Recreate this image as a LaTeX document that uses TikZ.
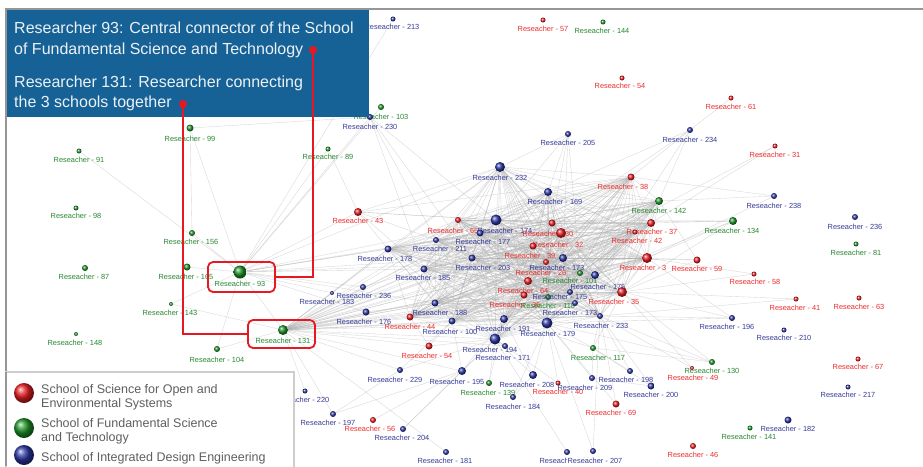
\documentclass[tikz,border=0pt]{standalone}
\usepackage{fontspec}
\setmainfont{Liberation Sans}
\usetikzlibrary{backgrounds}
\definecolor{boxblue}{RGB}{22,98,150}
\definecolor{boxtext}{RGB}{236,241,246}
\definecolor{sr}{RGB}{235,30,35}
\definecolor{sg}{RGB}{30,150,40}
\definecolor{sb}{RGB}{45,55,165}
\definecolor{tr}{RGB}{235,45,45}
\definecolor{tg}{RGB}{40,135,50}
\definecolor{tb}{RGB}{55,60,150}
\definecolor{edgec}{RGB}{175,175,175}
\definecolor{markc}{RGB}{230,25,35}
\definecolor{framec}{RGB}{150,150,150}
\definecolor{legline}{RGB}{205,205,205}
\definecolor{legtext}{RGB}{95,95,95}
\begin{document}
\begin{tikzpicture}[x=1pt,y=-1pt,
  edge/.style={draw=edgec, line width=0.35pt, opacity=0.5},
  sph/.style={circle, inner sep=0pt, shading=ball},
  lab/.style={font=\fontsize{7.4}{8}\selectfont, inner sep=0pt},
  boxtxt/.style={font=\fontsize{16}{19}\selectfont, text=boxtext, inner sep=0pt, anchor=base west},
  legtxt/.style={font=\fontsize{12.5}{14}\selectfont, text=legtext, inner sep=0pt, anchor=base west},
  mk/.style={draw=markc, line width=2.2pt},
  mkdot/.style={circle, fill=markc, inner sep=0pt, minimum size=8pt},
  hibox/.style={draw=markc, line width=1.8pt, rounded corners=5pt, inner sep=0pt}]
\useasboundingbox (0,0) rectangle (923,466);
% nodes
\foreach \id/\num/\x/\y/\c/\r/\lx/\ly in {
213/213/393/19/b/2.5/392/27, 57/57/543/20/r/2.5/543/29, 144/144/603/22/g/2.5/602/31,
54/54/622/78/r/2.5/620/86, 61/61/731/98/r/2.5/731/107, 234/234/690/130/b/3/690/140,
31/31/775/146/r/2.5/775/155, 103/103/381/107/g/3/381/117, 230/230/370/117/b/3/370/127,
89/89/328/149/g/2.5/328/157, 205/205/568/134/b/3/568/143, 99/99/190/128/g/3.5/190/139,
91/91/79/151/g/2.5/79/160, 98/98/76/208/g/2.5/76/216, 156/156/192/233/g/3/191/242,
87/87/85/268/g/3/84/277, 165/165/187/267/g/3.5/186/277, 93/93/240/272/g/6.5/240/284,
143/143/171/304/g/2/170/313, 148/148/76/334/g/2/75/343, 104/104/217/349/g/3/217/360,
131/131/283/330/g/5/283/341, 43/43/358/212/r/4/358/221, 178/178/388/249/b/3.5/385/259,
211/211/436/240/b/3/440/249, 185/185/424/269/b/3.5/423/278, 236a/236/363/287/b/3/364/296,
183/183/332/293/b/2/327/302, 176/176/366/312/b/3.5/364/322, 44/44/410/317/r/3.5/410/327,
188/188/435/303/b/3.5/440/313, 100/100/452/321/b/3.5/450/332, 191/191/504/319/b/4/503/329,
179/179/547/323/b/5.5/548/334, 194/194/495/339/b/5.5/490/350, 171/171/505/346/b/3/503/358,
54b/54/429/346/r/3.5/427/356, 229/229/400/370/b/3/395/380, 195/195/462/371/b/4/457/382,
139/139/489/383/g/3/488/393, 184/184/513/397/b/3/513/407, 208/208/533/375/b/4/527/385,
40/40/558/383/r/2.5/558/392, 209/209/592/378/b/3/585/388, 220/220/305/391/b/2.5/302/400,
197/197/333/414/b/3/328/423, 56/56/373/420/r/3/370/429, 204/204/403/429/b/3/402/438,
181/181/446/452/b/3/445/461, 206/206/567/452/b/3/567/461,
196/196/732/318/b/3/727/327, 210/210/784/330/b/2.5/784/338, 67/67/858/359/r/2.5/858/367,
130/130/712/362/g/3/712/371, 49/49/692/368/r/2/693/378, 198/198/630/371/b/3/626/380,
200/200/651/386/b/3.5/651/395, 69/69/616/404/r/3.5/611/413, 217/217/848/387/b/2.5/848/395,
182/182/788/420/b/3.5/788/429, 141/141/750/428/g/2.5/749/437, 46/46/693/446/r/3/693/455,
233/233/600/316/b/3/601/326, 117/117/593/348/g/3/598/358, 238/238/774/196/b/3/774/206,
236b/236/855/217/b/3/855/227, 81/81/856/244/g/2.5/856/253, 134/134/733/221/g/4/732/231,
142/142/659/201/g/4/659/211, 38/38/631/177/r/3.5/623/187, 37/37/651/223/r/4/652/232,
42/42/635/232/r/2.5/637/241, 3/3/647/258/r/5/643/268, 59/59/697/260/r/3.5/697/269,
58/58/754/274/r/2.5/755/282, 41/41/796/299/r/2.5/795/308, 63/63/859/298/r/2.5/859/307,
35/35/622/292/r/5/614/302, 232/232/500/167/b/5/500/178, 169/169/548/192/b/4/555/202,
174/174/496/220/b/5.5/505/231, 65/65/458/220/r/3/453/231, 177/177/480/233/b/3.5/483/242,
30/30/552/223/r/3.5/548/234, 32/32/561/233/r/5/558/245, 39/39/533/246/r/3.5/530/256,
203/203/472/258/b/3.5/483/268, 26/26/546/262/r/3/541/273, 173a/173/563/258/b/4/557/268,
101/101/580/273/g/3/570/281, 175a/175/595/275/b/4/598/287, 64/64/528/281/r/4/523/291,
36/36/524/295/r/3.5/515/305, 118/118/548/297/g/3/548/306, 175b/175/570/292/b/3/560/297,
173b/173/575/303/b/3/570/313} {
  \node[lab, text=t\c] (l\id) at (\lx,\ly) {Reseacher - \num};
  \node[sph, ball color=s\c, minimum size=2*\r] (n\id) at (\x,\y) {};
}
\node[lab, text=tb, fill=white, inner sep=0.5pt] (l207) at (595,461) {Reseacher - 207};
\node[sph, ball color=sb, minimum size=6pt] (n207) at (593,451) {};
% edges
\begin{scope}[on background layer]
\fill[white] (0,0) rectangle (923,466);
\foreach \a [count=\i] in {232,169,174,65,177,211,30,32,39,203,26,173a,101,175a,64,36,118,175b,173b,185,188,100,191,179,194,233,3,35,37,42,38,142,44,178} {
  \foreach \b [count=\j] in {232,169,174,65,177,211,30,32,39,203,26,173a,101,175a,64,36,118,175b,173b,185,188,100,191,179,194,233,3,35,37,42,38,142,44,178} {
    \ifnum\j>\i \draw[edge] (n\a) -- (n\b); \fi
  }
  \draw[edge] (n131) -- (n\a);
}
\foreach \a/\b in {93/99, 93/91, 93/156, 93/165, 93/89, 93/230, 93/103, 93/213, 93/43, 93/178,
 93/211, 93/185, 93/203, 93/174, 93/232, 93/236a, 93/183, 93/131, 93/143, 93/176, 93/188, 93/30, 93/3,
 99/156, 99/230, 131/104, 131/143, 131/220, 131/197, 131/181, 131/229, 131/195, 131/54b, 131/176,
 131/236a, 131/183, 131/171, 43/232, 43/174, 43/211, 43/178, 43/185, 43/30, 43/38, 43/89,
 230/185, 230/211, 230/174, 230/203, 205/232, 205/169, 205/174, 205/173a, 205/30, 205/101,
 234/61, 234/142, 234/38, 234/30, 234/169, 234/175a, 31/37, 31/173a, 238/38, 238/3, 238/142,
 134/37, 134/3, 134/35, 134/175a, 134/30, 134/174, 142/59, 59/3, 59/35, 59/173a, 58/3, 58/35,
 41/35, 41/233, 196/233, 196/35, 196/3, 196/179, 130/233, 130/179, 130/117, 130/35, 49/233, 49/35,
 198/117, 198/233, 200/117, 200/233, 200/209, 209/179, 209/117, 117/179, 117/233, 117/191, 117/35,
 208/194, 208/179, 208/191, 40/179, 40/194, 139/194, 139/191, 184/179, 184/208, 195/194, 195/191,
 195/100, 195/204, 229/100, 229/194, 197/229, 197/195, 56/195, 204/194, 206/194, 207/179, 207/233,
 54b/194, 54b/100, 54b/44, 44/188, 236a/185, 183/178, 104/93, 69/233, 69/179, 171/194, 176/188}
  \draw[edge] (n\a) -- (n\b);
\end{scope}
% frame
\draw[framec, line width=2pt] (5.5,466) -- (5.5,8.5) -- (923,8.5);
% annotation box
\fill[boxblue] (7,10) rectangle (369,117);
\node[boxtxt] (t1) at (14,33) {Researcher 93: Central connector of the School};
\node[boxtxt] (t2) at (14,54.5) {of Fundamental Science and Technology};
\node[boxtxt] (t3) at (14,87) {Researcher 131: Researcher connecting};
\node[boxtxt] (t4) at (14,107.5) {the 3 schools together};
% highlight boxes and markers
\node[hibox, minimum width=67pt, minimum height=30pt] (box93) at (241.5,277) {};
\node[hibox, minimum width=67pt, minimum height=28pt] (box131) at (281.5,334) {};
\node[mkdot] (d1) at (313,50) {};
\node[mkdot] (d2) at (183,104) {};
\draw[mk] (d1.center) |- (box93.east);
\draw[mk] (d2.center) |- (box131.west);
% legend
\draw[legline, fill=white, line width=1.5pt] (6,470) -- (6,372) -- (294,372) -- (294,470);
\draw[framec, line width=2pt] (5.5,466) -- (5.5,372);
\node[sph, ball color=sr, minimum size=20pt] (lr) at (24,393) {};
\node[sph, ball color=sg, minimum size=20pt] (lg) at (24,428) {};
\node[sph, ball color=sb, minimum size=20pt] (lb) at (24,455) {};
\node[legtxt] (e1) at (41,393) {School of Science for Open and};
\node[legtxt] (e2) at (41,407) {Environmental Systems};
\node[legtxt] (e3) at (41,427) {School of Fundamental Science};
\node[legtxt] (e4) at (41,441) {and Technology};
\node[legtxt] (e5) at (41,461) {School of Integrated Design Engineering};
\end{tikzpicture}
\end{document}
